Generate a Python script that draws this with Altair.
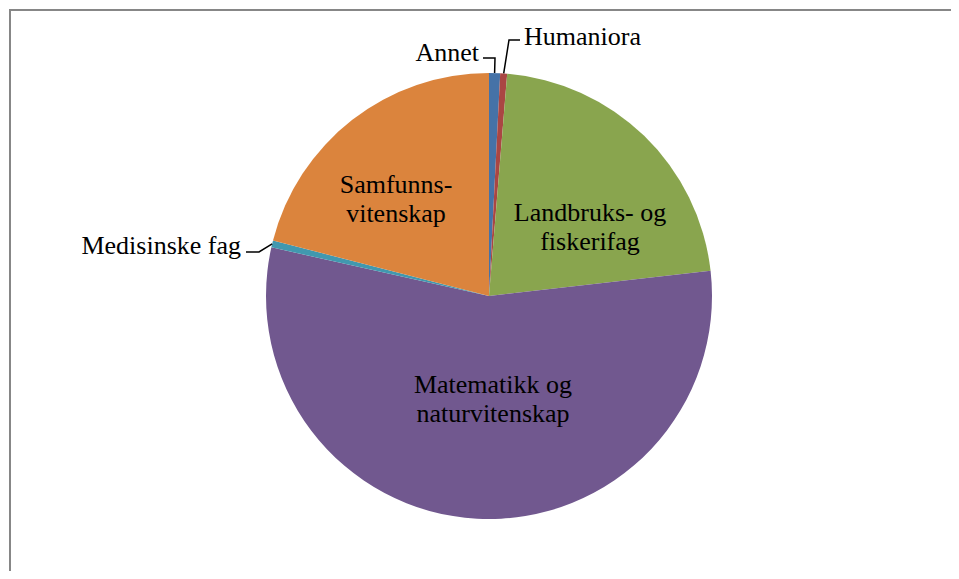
import altair as alt
import pandas as pd
import numpy as np

# ---- data (percent of total) ----
categories = ["Annet", "Humaniora", "Landbruks- og fiskerifag",
              "Matematikk og naturvitenskap", "Medisinske fag", "Samfunnsvitenskap"]
shares = [0.8, 0.5, 21.9, 55.3, 0.5, 21.0]
label_text = ["Annet", "Humaniora", "Landbruks- og\nfiskerifag",
              "Matematikk og\nnaturvitenskap", "Medisinske fag", "Samfunns-\nvitenskap"]

# ---- styles / layout ----
colors = ["#4572A7", "#AA4643", "#89A54E", "#71588F", "#4198AF", "#DB843D"]
W, H = 943, 563
CX, CY, R = 480, 287, 223
FONT = "'Liberation Serif', 'Times New Roman', Tinos, 'DejaVu Serif', serif"
FS = 26

df = pd.DataFrame({"cat": categories, "val": shares, "idx": range(len(categories))})

# label anchor positions (layout, plot coords) and alignment
label_pos = {
    "Annet": (470, 52, "right"),
    "Humaniora": (515, 36, "left"),
    "Landbruks- og fiskerifag": (581, 212, "center"),
    "Matematikk og naturvitenskap": (484, 384, "center"),
    "Medisinske fag": (232, 245, "right"),
    "Samfunnsvitenskap": (387, 184, "center"),
}
# leader elbows (layout, plot coords): label end -> elbow -> slice edge
leader_pts = {
    "Annet": [(474, 49), (486, 49)],
    "Humaniora": [(511, 31), (500, 31)],
    "Medisinske fag": [(237, 243), (250, 243)],
}

# slice mid-angles derived from the data
tot = sum(shares)
cum = np.cumsum([0] + shares)
mid = {c: (cum[i] + cum[i + 1]) / 2 / tot * 2 * np.pi for i, c in enumerate(categories)}

lead_rows = []
for c, pts in leader_pts.items():
    a = mid[c]
    edge = (CX + R * np.sin(a), CY - R * np.cos(a))
    for k, (px, py) in enumerate(pts + [edge]):
        lead_rows.append({"cat": c, "k": k, "px": px, "py": py})
lead_df = pd.DataFrame(lead_rows)

lab_rows = []
for i, c in enumerate(categories):
    x, y, al = label_pos[c]
    lab_rows.append({"cat": c, "txt": label_text[i], "px": x, "py": y, "al": al})
lab_df = pd.DataFrame(lab_rows)

xs = alt.Scale(domain=[0, W], range=[0, W], nice=False, zero=False)
ys = alt.Scale(domain=[0, H], range=[0, H], nice=False, zero=False)

pie = alt.Chart(df).mark_arc(radius=R, stroke=None).encode(
    theta=alt.Theta("val:Q", stack=True),
    color=alt.Color("cat:N", scale=alt.Scale(domain=categories, range=colors), legend=None),
    order=alt.Order("idx:Q"),
    x=alt.value(CX),
    y=alt.value(CY),
)

leaders = alt.Chart(lead_df).mark_line(color="black", strokeWidth=1.5).encode(
    x=alt.X("px:Q", scale=xs, axis=None),
    y=alt.Y("py:Q", scale=ys, axis=None),
    detail="cat:N",
    order="k:Q",
)

def text_layer(align):
    return alt.Chart(lab_df).transform_filter(
        alt.datum.al == align
    ).mark_text(
        align=align, baseline="alphabetic", font=FONT, fontSize=FS,
        lineBreak="\n", lineHeight=29, color="black"
    ).encode(
        x=alt.X("px:Q", scale=xs, axis=None),
        y=alt.Y("py:Q", scale=ys, axis=None),
        text="txt:N",
    )

frame_top = alt.Chart(df).mark_rule(color="#868686", strokeWidth=1.5, strokeCap="butt").encode(
    x=alt.value(0), x2=alt.value(W), y=alt.value(0.75))
frame_left = alt.Chart(df).mark_rule(color="#868686", strokeWidth=1.5, strokeCap="butt").encode(
    x=alt.value(0.75), y=alt.value(0), y2=alt.value(H))

chart = alt.layer(
    pie, leaders, text_layer("left"), text_layer("right"), text_layer("center"),
    frame_top, frame_left
).properties(
    width=W, height=H,
    autosize=alt.AutoSizeParams(type="fit", contains="padding"),
    padding=0,
    background="white",
).configure_view(stroke=None)

chart.save("out.html", embed_options={"renderer": "svg", "actions": False})
